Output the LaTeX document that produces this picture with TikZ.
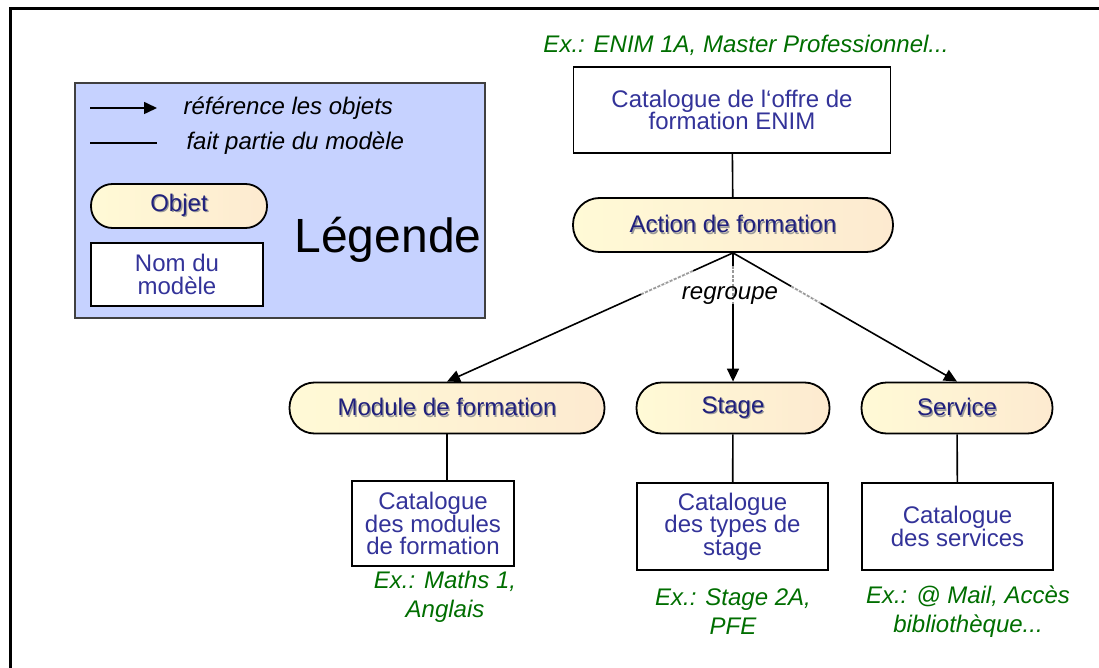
\documentclass[tikz,border=0pt]{standalone}
\usepackage{fontspec}
\setmainfont{Liberation Sans}
\usetikzlibrary{arrows.meta}

\definecolor{legendblue}{RGB}{198,210,255}
\definecolor{txtblue}{RGB}{51,51,153}
\definecolor{ovaltxt}{RGB}{32,32,125}
\definecolor{exgreen}{RGB}{0,110,0}
\definecolor{ovalA}{RGB}{255,250,214}
\definecolor{ovalB}{RGB}{253,234,208}

% text with a small grey shadow, as in the object labels
\newcommand{\shadowtxt}[1]{\makebox[0pt][l]{\hspace{1.3pt}\raisebox{-1.3pt}{\textcolor{black!40}{#1}}}#1}

\begin{document}
\begin{tikzpicture}[x=1pt,y=-1pt,
	objet/.style={draw, line width=1.8pt, rounded corners=25pt, left color=ovalA,
		right color=ovalB, text=ovaltxt, inner sep=0, minimum height=51pt,
		font=\fontsize{24}{24}\selectfont},
	model/.style={draw, line width=1.8pt, fill=white, text=txtblue, align=center,
		inner sep=0, font=\fontsize{24}{22.5}\selectfont},
	ex/.style={text=exgreen, align=center, font=\fontsize{24}{29}\selectfont\itshape},
	note/.style={font=\fontsize{24}{24}\selectfont\itshape},
	refarrow/.style={-{Triangle[length=13pt,width=12pt]}, line width=1.6pt},
	part/.style={line width=1.6pt},
	grayseg/.style={draw=white, line width=2.2pt,
		postaction={draw=black!40, line width=1.6pt, dash pattern=on 3pt off 1.5pt}}]
	\useasboundingbox (0,0) rectangle (1099,668);
	% frame: only the top and the left side are visible
	\draw[line width=3pt] (10,668) -- (10,9) -- (1099,9);

	% legend
	\draw[draw=black!75, line width=1.2pt, fill=legendblue] (75,83) rectangle (485,318);
	\coordinate (la1) at (90,108);
	\coordinate (la2) at (157,108);
	\coordinate (lp1) at (90,143);
	\coordinate (lp2) at (157,143);
	\draw[refarrow] (la1) -- (la2);
	\draw[part] (lp1) -- (lp2);
	\node[note, anchor=west] (lref) at (180,108) {référence les objets};
	\node[note, anchor=west] (lpart) at (183,143) {fait partie du modèle};
	\node[objet, rounded corners=21.5pt, minimum width=176pt, minimum height=44pt]
		(lobj) at (179,206) {\shadowtxt{Objet}};
	\node[model, minimum width=172pt, minimum height=63pt] (lmod) at (177,274.5)
		{Nom du\\modèle};
	\node[font=\fontsize{48}{48}\selectfont] (ltitle) at (388,240) {Légende};

	% top of the tree
	\node[ex] (exTop) at (746,45) {Ex.: ENIM 1A, Master Professionnel...};
	\node[model, minimum width=317pt, minimum height=86pt] (cat) at (732,110)
		{Catalogue de l‘offre de\\formation ENIM};
	\node[objet, minimum width=320pt, minimum height=54pt, rounded corners=26.5pt]
		(act) at (733,225) {\shadowtxt{Action de formation}};
	\draw[part] (cat) -- (act);

	% objects grouped by the action
	\node[objet, minimum width=315pt] (mod) at (447,408) {\shadowtxt{Module de formation}};
	\node[objet, minimum width=193pt] (sta) at (733,408) {\shadowtxt{Stage}};
	\node[objet, minimum width=191pt] (ser) at (957,408) {\shadowtxt{Service}};

	\foreach \o/\a/\b in {mod/.14/.32, sta/.1/.4, ser/.26/.39} {
		\draw[refarrow] (act.south) -- (\o.north);
		% lighter dashed piece on each arrow
		\path (act.south) -- (\o.north) coordinate[pos=\a] (\o-g1) coordinate[pos=\b] (\o-g2);
		\draw[grayseg] (\o-g1) -- (\o-g2);
	}
	\node[note] (regr) at (730,296) {regroupe};

	% catalogues
	\node[model, minimum width=162pt, minimum height=85pt] (catMod) at (433,523.5)
		{Catalogue\\des modules\\de formation};
	\node[model, minimum width=191pt, minimum height=87pt] (catSta) at (732.5,526.5)
		{Catalogue\\des types de\\stage};
	\node[model, minimum width=191pt, minimum height=87pt] (catSer) at (957.5,526.5)
		{Catalogue\\des services};
	\draw[part] (mod.south) -- (mod.south |- catMod.north);
	\draw[part] (sta) -- (catSta);
	\draw[part] (ser) -- (catSer);

	% examples
	\node[ex] (exMod) at (445,597) {Ex.: Maths 1,\\Anglais};
	\node[ex] (exSta) at (733,612) {Ex.: Stage 2A,\\PFE};
	\node[ex] (exSer) at (968,612) {Ex.: @ Mail, Accès\\bibliothèque...};
\end{tikzpicture}
\end{document}
